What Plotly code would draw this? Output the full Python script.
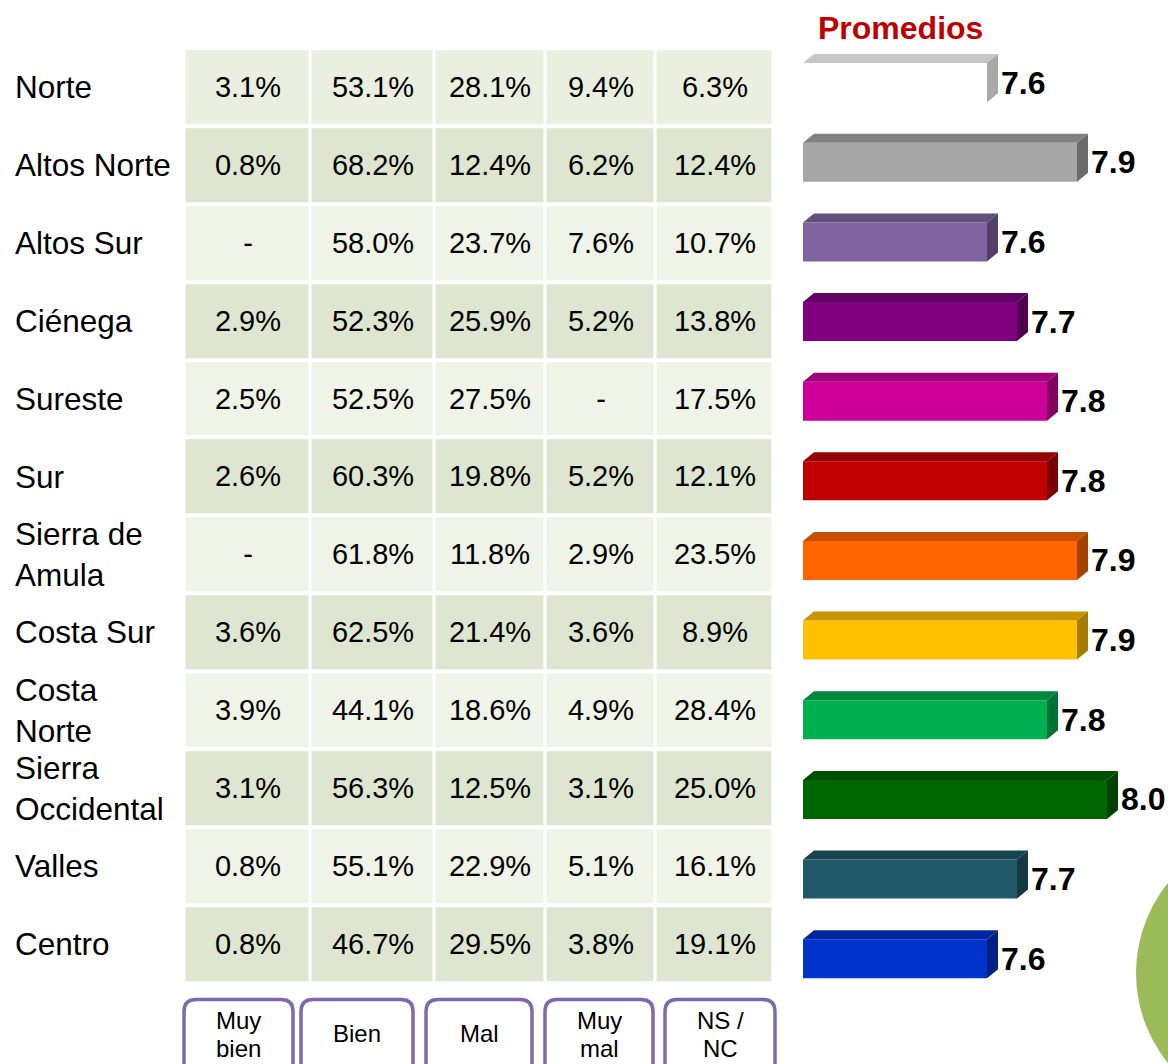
import plotly.graph_objects as go

# ---------------- data ----------------
regions = ["Norte", "Altos Norte", "Altos Sur", "Ciénega", "Sureste", "Sur",
           "Sierra de Amula", "Costa Sur", "Costa Norte", "Sierra Occidental",
           "Valles", "Centro"]
region_labels = ["Norte", "Altos Norte", "Altos Sur", "Ciénega", "Sureste", "Sur",
                 "Sierra de<br>Amula", "Costa Sur", "Costa<br>Norte",
                 "Sierra<br>Occidental", "Valles", "Centro"]
column_labels = [["Muy", "bien"], ["Bien"], ["Mal"], ["Muy", "mal"], ["NS /", "NC"]]

muy_bien = [3.1, 0.8, None, 2.9, 2.5, 2.6, None, 3.6, 3.9, 3.1, 0.8, 0.8]
bien     = [53.1, 68.2, 58.0, 52.3, 52.5, 60.3, 61.8, 62.5, 44.1, 56.3, 55.1, 46.7]
mal      = [28.1, 12.4, 23.7, 25.9, 27.5, 19.8, 11.8, 21.4, 18.6, 12.5, 22.9, 29.5]
muy_mal  = [9.4, 6.2, 7.6, 5.2, None, 5.2, 2.9, 3.6, 4.9, 3.1, 5.1, 3.8]
ns_nc    = [6.3, 12.4, 10.7, 13.8, 17.5, 12.1, 23.5, 8.9, 28.4, 25.0, 16.1, 19.1]

promedios = [7.6, 7.9, 7.6, 7.7, 7.8, 7.8, 7.9, 7.9, 7.8, 8.0, 7.7, 7.6]

# ---------------- styles ----------------
bar_front = ["#FFFFFF", "#A6A6A6", "#8064A2", "#800080", "#CC0099", "#C00000",
             "#FF6600", "#FFC000", "#00B050", "#006600", "#215968", "#0033CC"]

def shade(hexc, f):
    h = hexc.lstrip("#")
    r, g, b = (int(h[k:k + 2], 16) for k in (0, 2, 4))
    return "#%02X%02X%02X" % (int(r * f), int(g * f), int(b * f))

bar_top = [shade(c, 0.78) for c in bar_front]
bar_side = [shade(c, 0.65) for c in bar_front]
bar_top[0] = "#C6C6C6"
bar_side[0] = "#A8A8A8"

FONT = "Liberation Sans, Arial, sans-serif"
W, H = 1168, 1064
ROW_LIGHT0 = "#EBEFDF"
ROW_DARK = "#DEE6D1"
ROW_LIGHT = "#EFF3E8"
BOX_COLOR = "#7E69AE"

# table geometry (pixels)
col_edges = [184.5, 310.5, 434.5, 545.5, 655.5, 773.5]
tbl_top, tbl_bot = 48.2, 982.9
# bar geometry (pixels)
bar_left_px = 803
px_per_unit = 300.0
bar_x0 = 7.6 - (987 - bar_left_px) / px_per_unit
bar_top_px, bar_bot_px = 42.8, 998.5
bar_pitch = (bar_bot_px - bar_top_px) / len(regions)
DX = 11 / px_per_unit
DY = 9 / bar_pitch
HALF = 0.245

def py(p):
    return 1 - p / H

# ---------------- figure ----------------
cols = [muy_bien, bien, mal, muy_mal, ns_nc]
n = len(regions)
z = [[0 if i == 0 else (1 if i % 2 == 1 else 2) for _ in cols] for i in range(n)]
txt = [[("-" if c[i] is None else f"{c[i]:.1f}%") for c in cols] for i in range(n)]

fig = go.Figure()
fig.add_trace(go.Heatmap(
    x=col_edges, y=regions, z=z, text=txt, texttemplate="%{text}",
    textfont=dict(size=29, color="black", family=FONT),
    colorscale=[[0, ROW_LIGHT0], [0.5, ROW_DARK], [1, ROW_LIGHT]],
    zmin=0, zmax=2, showscale=False, xgap=3, ygap=4, hoverinfo="skip",
    xaxis="x", yaxis="y"))

fig.add_trace(go.Bar(
    x=promedios, y=list(range(n)), orientation="h", width=2 * HALF,
    marker=dict(color=bar_front, line=dict(width=0)),
    xaxis="x2", yaxis="y2", hoverinfo="skip"))

shapes = []
annotations = []
for i, v in enumerate(promedios):
    yt, yb = i - HALF, i + HALF
    shapes.append(dict(type="path", xref="x2", yref="y2", line=dict(width=0),
                       fillcolor=bar_top[i],
                       path=f"M {bar_x0},{yt} L {bar_x0 + DX},{yt - DY} L {v + DX},{yt - DY} L {v},{yt} Z"))
    shapes.append(dict(type="path", xref="x2", yref="y2", line=dict(width=0),
                       fillcolor=bar_side[i],
                       path=f"M {v},{yt} L {v + DX},{yt - DY} L {v + DX},{yb - DY} L {v},{yb} Z"))
    annotations.append(dict(x=v, y=i, xref="x2", yref="y2", text=f"<b>{v:.1f}</b>",
                            showarrow=False, xanchor="left", yanchor="middle", xshift=12,
                            font=dict(size=32, color="black", family=FONT)))

for lab, reg in zip(region_labels, regions):
    annotations.append(dict(x=13 / W, y=reg, xref="paper", yref="y", text=lab,
                            showarrow=False, xanchor="left", yanchor="middle", align="left",
                            font=dict(size=31.5, color="black", family=FONT)))

annotations.append(dict(x=900 / W, y=py(28), xref="paper", yref="paper",
                        text="<b>Promedios</b>", showarrow=False, xanchor="center",
                        yanchor="middle", font=dict(size=32, color="#C00000", family=FONT)))

# header boxes at bottom
box_edges = [(184, 293), (301, 413), (426, 532), (545, 653), (665, 775)]
r = 12
btop, bbot = 999.5, 1080
for (x0, x1), lines in zip(box_edges, column_labels):
    path = (f"M {x0},{py(bbot)} L {x0},{py(btop + r)} Q {x0},{py(btop)} {x0 + r},{py(btop)} "
            f"L {x1 - r},{py(btop)} Q {x1},{py(btop)} {x1},{py(btop + r)} L {x1},{py(bbot)} Z")
    shapes.append(dict(type="path", xref="x", yref="paper", path=path,
                       line=dict(color=BOX_COLOR, width=3.5), fillcolor="white"))
    cx = (x0 + x1) / 2
    ys = [1033] if len(lines) == 1 else [1020, 1048]
    for t, yy in zip(lines, ys):
        annotations.append(dict(x=cx, y=py(yy), xref="x", yref="paper", text=t,
                                showarrow=False, xanchor="center", yanchor="middle",
                                font=dict(size=24, color="black", family=FONT)))

# decorative green circle
cxp, cyp, rad = 1278.6, 973, 142.6
shapes.append(dict(type="circle", xref="paper", yref="paper",
                   x0=(cxp - rad) / W, x1=(cxp + rad) / W,
                   y0=py(cyp + rad), y1=py(cyp - rad),
                   fillcolor="#9BBB59", line=dict(width=0), layer="below"))

fig.update_layout(
    width=W, height=H, margin=dict(l=0, r=0, t=0, b=0),
    paper_bgcolor="white", plot_bgcolor="rgba(0,0,0,0)",
    showlegend=False, shapes=shapes, annotations=annotations,
    xaxis=dict(domain=[0, 1], range=[0, W], visible=False, fixedrange=True),
    yaxis=dict(domain=[py(tbl_bot), py(tbl_top)], range=[n - 0.5, -0.5],
               type="category", visible=False, fixedrange=True),
    xaxis2=dict(domain=[bar_left_px / W, 1], range=[bar_x0, bar_x0 + (W - bar_left_px) / px_per_unit],
                visible=False, anchor="y2", fixedrange=True),
    yaxis2=dict(domain=[py(bar_bot_px), py(bar_top_px)], range=[n - 0.5, -0.5],
                visible=False, anchor="x2", fixedrange=True),
    font=dict(family=FONT),
)

fig.write_html("out.html", config={"displayModeBar": False},
               post_script="document.body.style.margin='0';")
